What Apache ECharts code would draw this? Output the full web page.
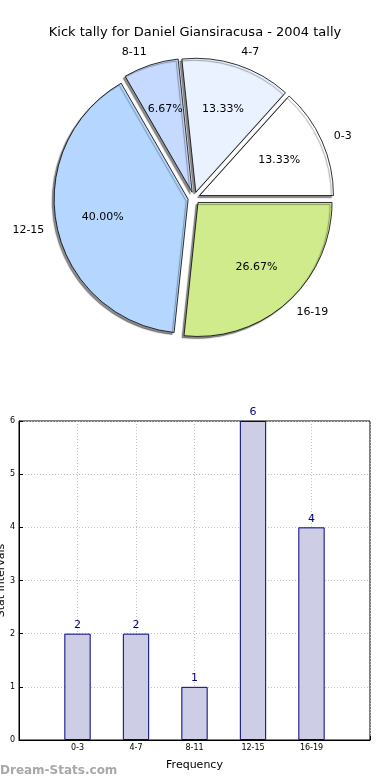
<!DOCTYPE html>
<html>
<head>
<meta charset="utf-8">
<script src="https://cdn.jsdelivr.net/npm/echarts@6/dist/echarts.min.js"></script>
<style>html,body{margin:0;padding:0;background:#fff;}#chart{width:390px;height:780px;}</style>
</head>
<body>
<div id="chart"></div>
<script>
const titleText = 'Kick tally for Daniel Giansiracusa - 2004 tally';
const categories = ['0-3', '4-7', '8-11', '12-15', '16-19'];
const counts = [2, 2, 1, 6, 4];
const sliceColors = ['#ffffff', '#eaf2ff', '#c6d9ff', '#b5d7ff', '#d0eb8c'];
const yTicks = [0, 1, 2, 3, 4, 5, 6];
const xName = 'Frequency';
const yName = 'Stat Intervals';
const watermark = 'Dream-Stats.com';

const FONT = 'DejaVu Sans';
const R = 134;
const CX = 194, CY = 198;
const OFFSET = 6;

const pieData = categories.map((c, i) => ({
  name: c,
  value: counts[i],
  selected: true,
  itemStyle: { color: sliceColors[i] }
}));
const pctData = categories.map((c, i) => ({ name: c, value: counts[i], selected: true }));

const chart = echarts.init(document.getElementById('chart'), null, { renderer: 'canvas' });
chart.setOption({
  animation: false,
  backgroundColor: '#ffffff',
  title: {
    text: titleText,
    left: 'center',
    top: 21,
    textStyle: { fontFamily: FONT, fontSize: 13, fontWeight: 'normal', color: '#000' }
  },
  graphic: [{
    type: 'text',
    left: 0,
    top: 765,
    style: { text: watermark, fontFamily: FONT, fontSize: 12, fontWeight: 'bold', fill: '#a8a8a8' }
  }],
  grid: {
    left: 19, right: 20, top: 421, bottom: 40,
    outerBoundsMode: 'none',
    containLabel: false,
    show: true, borderColor: '#000', borderWidth: 1, backgroundColor: 'transparent'
  },
  xAxis: {
    type: 'category',
    data: [''].concat(categories).concat(['']),
    boundaryGap: false,
    name: xName,
    nameLocation: 'middle',
    nameGap: 20,
    nameMoveOverlap: false,
    nameTextStyle: { fontFamily: FONT, fontSize: 11, color: '#000' },
    axisLine: { lineStyle: { color: '#000', width: 1 } },
    axisTick: { show: true, inside: true, length: 4, alignWithLabel: true, lineStyle: { color: '#000' } },
    axisLabel: { interval: 0, fontFamily: FONT, fontSize: 8, color: '#000', margin: 4 },
    splitLine: { show: true, lineStyle: { color: '#c0c0c0', type: [1, 2], width: 1 } }
  },
  yAxis: {
    type: 'value',
    min: 0, max: 6, interval: 1,
    name: yName,
    nameLocation: 'middle',
    nameGap: 12,
    nameRotate: 90,
    nameMoveOverlap: false,
    nameTextStyle: { fontFamily: FONT, fontSize: 11, color: '#000' },
    axisLine: { show: true, lineStyle: { color: '#000', width: 1 } },
    axisTick: { show: true, inside: true, length: 4, lineStyle: { color: '#000' } },
    axisLabel: { fontFamily: FONT, fontSize: 8, color: '#000', margin: 4,
      formatter: v => yTicks.includes(v) ? String(v) : '' },
    splitLine: { show: true, lineStyle: { color: '#c0c0c0', type: [1, 2], width: 1 } }
  },
  series: [
    {
      type: 'pie',
      center: [CX, CY],
      radius: R,
      startAngle: 0,
      clockwise: false,
      selectedMode: 'multiple',
      selectedOffset: OFFSET,
      avoidLabelOverlap: false,
      silent: true,
      itemStyle: {
        borderColor: '#000', borderWidth: 0.8,
        shadowColor: 'rgba(0,0,0,0.45)', shadowBlur: 1, shadowOffsetX: -2, shadowOffsetY: 2
      },
      select: { itemStyle: { borderColor: '#000', borderWidth: 0.8 } },
      label: {
        show: true, position: 'outside', fontFamily: FONT, fontSize: 11, color: '#000',
        distanceToLabelLine: 0, formatter: '{b}'
      },
      labelLine: { show: false, length: 13, length2: 0 },
      data: pieData
    },
    {
      type: 'pie',
      center: [CX, CY],
      radius: R * 1.26,
      startAngle: 0,
      clockwise: false,
      selectedMode: 'multiple',
      selectedOffset: OFFSET,
      avoidLabelOverlap: false,
      silent: true,
      z: 5,
      itemStyle: { color: 'rgba(0,0,0,0)', borderWidth: 0 },
      select: { itemStyle: { color: 'rgba(0,0,0,0)', borderWidth: 0 } },
      label: {
        show: true, position: 'inside', fontFamily: FONT, fontSize: 11, color: '#000',
        formatter: p => p.percent.toFixed(2) + '%'
      },
      labelLine: { show: false },
      data: pctData
    },
    {
      type: 'bar',
      data: ['-'].concat(counts).concat(['-']),
      barWidth: '45%',
      itemStyle: { color: '#cdcde6', borderColor: '#000080', borderWidth: 1 },
      label: { show: true, position: 'top', distance: 3, fontFamily: FONT, fontSize: 11, color: '#000080' },
      z: 1
    }
  ]
});
</script>
</body>
</html>
